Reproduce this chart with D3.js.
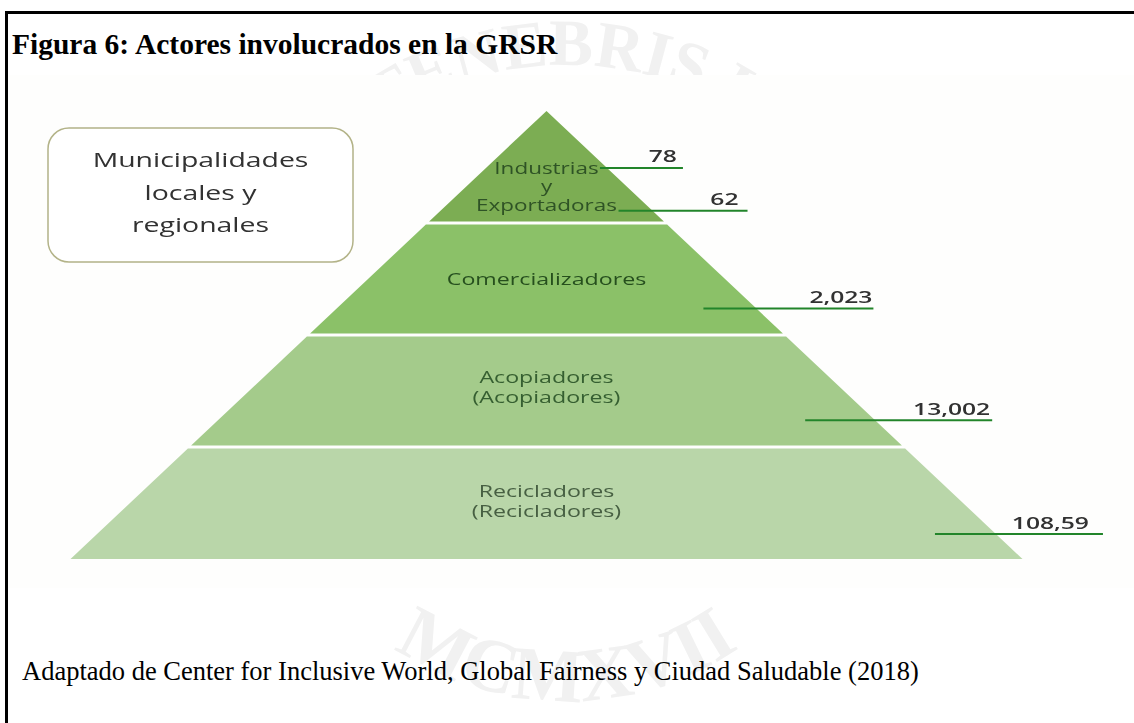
<!DOCTYPE html>
<html>
<head>
<meta charset="utf-8">
<script src="https://cdn.jsdelivr.net/npm/d3@7/dist/d3.min.js"></script>
<style>
  html, body { margin: 0; padding: 0; background: #ffffff; }
  svg { display: block; }
</style>
</head>
<body>
<script>
// ---- content ----
const figureTitle = "Figura 6: Actores involucrados en la GRSR";
const sourceNote = "Adaptado de Center for Inclusive World, Global Fairness y Ciudad Saludable (2018)";
const boxLines = ["Municipalidades", "locales y", "regionales"];

// pyramid tiers, top to bottom
const tiers = ["Industrias y Exportadoras", "Comercializadores", "Acopiadores", "Recicladores"];
const tierLines = [
  ["Industrias", "y", "Exportadoras"],
  ["Comercializadores"],
  ["Acopiadores", "(Acopiadores)"],
  ["Recicladores", "(Recicladores)"]
];

// number of actors per group, as printed
const actorCounts = ["78", "62", "2,023", "13,002", "108,59"];
const countTier = [0, 0, 1, 2, 3];

// ---- layout & style ----
const W = 1134, H = 723;
const tierFill = ["#7bad52", "#8bc168", "#a4cb8b", "#b9d6a9"];
const tierText = ["#2f5225", "#264f1f", "#365f30", "#465f42"];
const stretch = 1.45;              // horizontal stretch of the figure lettering
const labelAnchor = [0.561, 0.55, 0.432, 0.448];
const labelLead = [18.5, 20, 20, 20];
const labelSize = [15.5, 16, 16, 16];
// callouts: position inside the tier band and offsets from the pyramid's right edge
const callouts = [
  { frac: 0.508, from: -7,  to: 76,  pad: 6 },
  { frac: 0.891, from: -34, to: 95,  pad: 9 },
  { frac: 0.764, from: -53, to: 117, pad: 1 },
  { frac: 0.762, from: -70, to: 117, pad: 2 },
  { frac: 0.777, from: -61, to: 107, pad: 14 }
];

const svg = d3.select("body").append("svg")
  .attr("width", W).attr("height", H)
  .attr("viewBox", `0 0 ${W} ${H}`);

const defs = svg.append("defs");
defs.append("filter").attr("id", "soft")
  .attr("x", "-5%").attr("y", "-5%").attr("width", "110%").attr("height", "110%")
  .append("feGaussianBlur").attr("stdDeviation", 0.55);

// ---- faint seal in the page background ----
const seal = { cx: 567, cy: 395 };
defs.append("path").attr("id", "sealTop")
  .attr("d", `M${seal.cx - 330},${seal.cy} A330,330 0 0 1 ${seal.cx + 330},${seal.cy}`);
defs.append("path").attr("id", "sealBottom")
  .attr("d", `M${seal.cx - 306},${seal.cy} A306,306 0 0 0 ${seal.cx + 306},${seal.cy}`);

const wm = svg.append("g").attr("fill", "#f1f1f1")
  .style("font-family", "'Liberation Serif', serif").style("font-weight", "bold");
wm.append("text").style("font-size", "66px")
  .append("textPath").attr("href", "#sealTop")
  .attr("startOffset", "42%").attr("text-anchor", "middle")
  .text("ET LUX IN TENEBRIS LUCET");
wm.append("text").style("font-size", "76px")
  .append("textPath").attr("href", "#sealBottom")
  .attr("startOffset", "50%").attr("text-anchor", "middle")
  .text("MCMXVII");

// ---- frame ----
svg.append("rect").attr("x", 5).attr("y", 11).attr("width", W - 5).attr("height", 3).attr("fill", "#000");
svg.append("rect").attr("x", 5).attr("y", 11).attr("width", 3).attr("height", H - 11).attr("fill", "#000");

svg.append("text")
  .attr("x", 12).attr("y", 54)
  .style("font-family", "'Liberation Serif', 'Times New Roman', serif")
  .style("font-weight", "bold").style("font-size", "29.5px")
  .attr("fill", "#000")
  .text(figureTitle);

svg.append("text")
  .attr("x", 22).attr("y", 680)
  .style("font-family", "'Liberation Serif', 'Times New Roman', serif")
  .style("font-size", "26.5px")
  .attr("fill", "#000")
  .text(sourceNote);

// ---- figure panel ----
svg.append("rect").attr("x", 8).attr("y", 75).attr("width", W - 8).attr("height", 513).attr("fill", "#fefefd");

const fig = svg.append("g").attr("filter", "url(#soft)");

// scales: tier index -> vertical position, vertical position -> half width
const y = d3.scaleLinear().domain([0, tiers.length]).range([111, 559]);
const halfW = d3.scaleLinear().domain([y(0), y(tiers.length)]).range([0, 476]);
const cx = 546.5;
const gap = 3;
const edgeR = yy => cx + halfW(yy);

fig.selectAll("path.tier")
  .data(tiers)
  .join("path")
  .attr("class", "tier")
  .attr("fill", (d, i) => tierFill[i])
  .attr("d", (d, i) => {
    const t = y(i) + (i > 0 ? gap / 2 : 0);
    const b = y(i + 1) - (i < tiers.length - 1 ? gap / 2 : 0);
    return d3.line()([
      [cx - halfW(t), t], [cx + halfW(t), t],
      [cx + halfW(b), b], [cx - halfW(b), b]
    ]) + "Z";
  });

// tier names
tierLines.forEach((lines, i) => {
  const base = y(i) + labelAnchor[i] * (y(i + 1) - y(i));
  fig.selectAll(null)
    .data(lines)
    .join("text")
    .attr("transform", (d, k) => `translate(${cx},${base + k * labelLead[i]}) scale(${stretch},1)`)
    .attr("text-anchor", "middle")
    .style("font-family", "'Open Sans', 'Noto Sans', sans-serif")
    .style("font-size", labelSize[i] + "px")
    .attr("fill", tierText[i])
    .text(d => d);
});

// leader lines and counts
const calloutData = actorCounts.map((v, j) => {
  const t = countTier[j], c = callouts[j];
  const ly = y(t) + c.frac * (y(t + 1) - y(t));
  return { v, ly, x0: edgeR(ly) + c.from, x1: edgeR(ly) + c.to, pad: c.pad };
});

fig.selectAll("line.leader")
  .data(calloutData)
  .join("line")
  .attr("class", "leader")
  .attr("x1", d => d.x0).attr("x2", d => d.x1)
  .attr("y1", d => d.ly).attr("y2", d => d.ly)
  .attr("stroke", "#24852b").attr("stroke-width", 2);

fig.selectAll("text.count")
  .data(calloutData)
  .join("text")
  .attr("class", "count")
  .attr("transform", d => `translate(${d.x1 - d.pad},${d.ly - 5.5}) scale(${stretch},1)`)
  .attr("text-anchor", "end")
  .style("font-family", "'Open Sans', 'Noto Sans', sans-serif")
  .style("font-weight", 600)
  .style("font-size", "17px")
  .attr("fill", "#303030")
  .text(d => d.v);

// side box
fig.append("rect")
  .attr("x", 48).attr("y", 128).attr("width", 305).attr("height", 134)
  .attr("rx", 21).attr("ry", 21)
  .attr("fill", "#ffffff").attr("stroke", "#b3b388").attr("stroke-width", 1.5);

fig.selectAll("text.box")
  .data(boxLines)
  .join("text")
  .attr("class", "box")
  .attr("transform", (d, k) => `translate(200.5,${167 + k * 32.7}) scale(1.42,1)`)
  .attr("text-anchor", "middle")
  .style("font-family", "'Open Sans', 'Noto Sans', sans-serif")
  .style("font-size", "20px")
  .attr("fill", "#303030")
  .text(d => d);
</script>
</body>
</html>
